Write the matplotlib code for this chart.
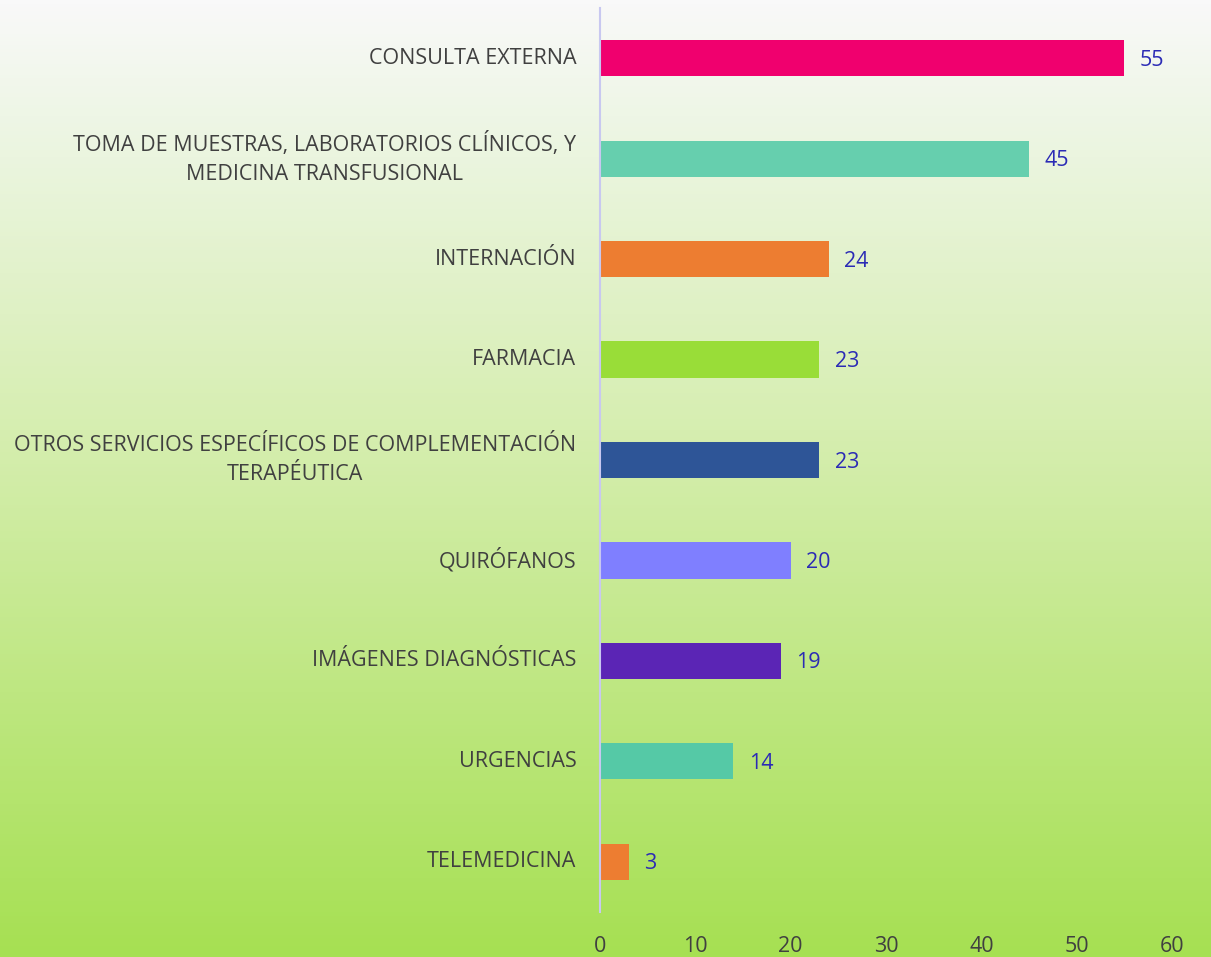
import matplotlib
matplotlib.use("Agg")
import matplotlib.pyplot as plt
import numpy as np
from matplotlib.colors import LinearSegmentedColormap

categories = ["CONSULTA EXTERNA",
              "TOMA DE MUESTRAS, LABORATORIOS CLÍNICOS, Y\nMEDICINA TRANSFUSIONAL",
              "INTERNACIÓN",
              "FARMACIA",
              "OTROS SERVICIOS ESPECÍFICOS DE COMPLEMENTACIÓN\nTERAPÉUTICA",
              "QUIRÓFANOS",
              "IMÁGENES DIAGNÓSTICAS",
              "URGENCIAS",
              "TELEMEDICINA"]
values = [55, 45, 24, 23, 23, 20, 19, 14, 3]
colors = ["#F0006E", "#66CFAE", "#ED7D31", "#99DD38", "#2E5597",
          "#7F7FFF", "#5B25B5", "#55C9A6", "#ED7D31"]
xticks = [0, 10, 20, 30, 40, 50, 60]

plt.rcParams['font.family'] = ['Open Sans', 'DejaVu Sans']

fig = plt.figure(figsize=(12.11, 9.57), dpi=100)

# background gradient
bg = fig.add_axes([0, 0, 1, 1], zorder=0)
grad = np.linspace(0, 1, 256).reshape(-1, 1)
cmap = LinearSegmentedColormap.from_list(
    "g", [(0, "#F9F9F9"), (0.12, "#EEF6E6"), (0.45, "#D6EEB0"), (1, "#A6E052")])
bg.imshow(grad, aspect="auto", cmap=cmap, extent=[0, 1, 0, 1], origin="upper")
bg.axis("off")

ax = fig.add_axes([600/1211, 1-912/957, (1172-600)/1211, (912-8)/957], zorder=1)
ax.patch.set_alpha(0)
y = np.arange(len(categories))
ax.barh(y, values, height=0.36, color=colors)
ax.set_ylim(len(categories)-0.5, -0.5)
ax.set_xlim(0, 60)
ax.set_xticks(xticks)
ax.set_xticklabels([str(t) for t in xticks])
ax.set_yticks(y)
ax.set_yticklabels(categories, ha="right", va="center", multialignment="center",
                   linespacing=1.5)
for s in ["top", "right", "bottom"]:
    ax.spines[s].set_visible(False)
ax.spines["left"].set_color("#C8C8F0")
ax.spines["left"].set_linewidth(1.5)
ax.tick_params(axis="both", length=0, colors="#404040", labelsize=15.5)
ax.tick_params(axis="x", pad=17)
ax.tick_params(axis="y", pad=17)

for yi, v in zip(y, values):
    ax.text(v + 1.6, yi + 0.02, str(v), va="center", ha="left", color="#2B2BB5", fontsize=15.5)

fig.savefig("out.png", dpi=100)
